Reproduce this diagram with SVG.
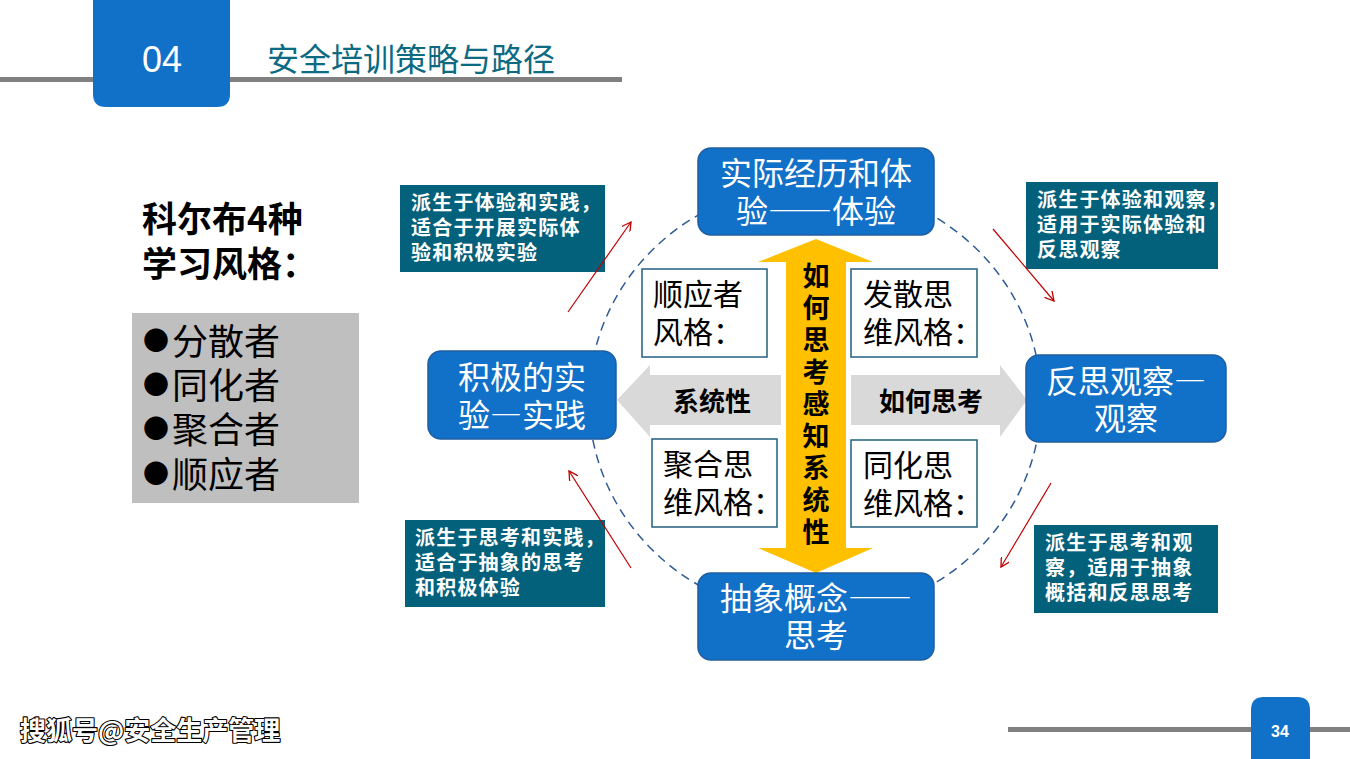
<svg xmlns="http://www.w3.org/2000/svg" width="1350" height="759" viewBox="0 0 1350 759">
<defs>
<style>
.cjk{font-family:"Noto Sans CJK SC","Noto Sans",sans-serif;}
.fw{font-feature-settings:"fwid" 1;}
.node rect{fill:#1170C8;stroke:#1F5EA0;stroke-width:1.5;}
.node text{fill:#fff;font-size:32px;text-anchor:middle;}
.note rect{fill:#03617B;}
.note text{fill:#fff;font-size:20px;font-weight:700;letter-spacing:1.2px;}
.style rect{fill:#fff;stroke:#1F6080;stroke-width:1.5;}
.style text{fill:#000;font-size:30px;}
.red{stroke:#C00000;stroke-width:1.2;fill:none;marker-end:url(#ah);}
.bul{font-size:26px;}
</style>
<marker id="ah" viewBox="0 0 10 10" refX="9" refY="5" markerWidth="10" markerHeight="10" markerUnits="userSpaceOnUse" orient="auto">
<path d="M0,0 L9,5 L0,10" fill="none" stroke="#C00000" stroke-width="1.3"/>
</marker>
</defs>
<rect width="1350" height="759" fill="#fff"/>

<g id="header">
<rect x="0" y="77" width="622" height="5" fill="#808080"/>
<path d="M93,0 H230 V94 Q230,107 217,107 H106 Q93,107 93,94 Z" fill="#1170C8"/>
<text x="162" y="72" font-family="Liberation Sans,Arial,sans-serif" font-size="36" fill="#fff" text-anchor="middle">04</text>
<text class="cjk" x="267" y="71" font-size="32" fill="#0C6A82">安全培训策略与路径</text>
</g>

<g id="footer">
<rect x="1008" y="727" width="342" height="5" fill="#808080"/>
<path d="M1251,759 V710 Q1251,697 1264,697 H1297 Q1310,697 1310,710 V759 Z" fill="#1170C8"/>
<text x="1280" y="737" font-family="Liberation Sans,Arial,sans-serif" font-size="16" font-weight="700" fill="#fff" text-anchor="middle">34</text>
<text class="cjk" x="20" y="740" font-size="26" font-weight="700" fill="#fff" stroke="#000" stroke-width="2.2" paint-order="stroke" stroke-linejoin="round">搜狐号@安全生产管理</text>
</g>

<g id="left-title">
<text class="cjk" font-size="35" font-weight="700" fill="#000"><tspan x="142" y="232">科尔布4种</tspan><tspan x="142" y="277">学习风格：</tspan></text>
</g>

<g id="style-list">
<rect x="132" y="313" width="227" height="190" fill="#BFBFBF"/>
<g class="cjk" font-size="36" fill="#000">
<text class="bul" x="143" y="350">●</text><text x="172" y="355">分散者</text>
<text class="bul" x="143" y="394">●</text><text x="172" y="399">同化者</text>
<text class="bul" x="143" y="438">●</text><text x="172" y="443">聚合者</text>
<text class="bul" x="143" y="483">●</text><text x="172" y="488">顺应者</text>
</g>
</g>

<ellipse id="cycle" cx="815" cy="400" rx="226" ry="216" fill="none" stroke="#2E5C94" stroke-width="1.5" stroke-dasharray="9 6"/>

<g id="axis-vertical">
<polygon points="816,239 873,262 846,262 846,548 873,548 816,573 758,548 786,548 786,262 758,262" fill="#FFC000"/>
<text class="cjk" x="816" font-size="27" font-weight="700" fill="#000" text-anchor="middle"><tspan x="816" y="286">如</tspan><tspan x="816" y="318">何</tspan><tspan x="816" y="350">思</tspan><tspan x="816" y="382">考</tspan><tspan x="816" y="414">感</tspan><tspan x="816" y="446">知</tspan><tspan x="816" y="478">系</tspan><tspan x="816" y="510">统</tspan><tspan x="816" y="542">性</tspan></text>
</g>

<g id="axis-left">
<polygon points="617,400 650,365 650,375 781,375 781,425 650,425 650,437" fill="#D9D9D9"/>
<text class="cjk" x="712" y="411" font-size="26" font-weight="700" fill="#000" text-anchor="middle">系统性</text>
</g>
<g id="axis-right">
<polygon points="851,375 1000,375 1000,365 1027,400 1000,437 1000,425 851,425" fill="#D9D9D9"/>
<text class="cjk" x="931" y="411" font-size="26" font-weight="700" fill="#000" text-anchor="middle">如何思考</text>
</g>

<g id="node-top" class="node cjk">
<rect x="698" y="148" width="236" height="87" rx="13"/>
<text class="fw"><tspan x="816" y="185">实际经历和体</tspan><tspan x="816" y="223">验——体验</tspan></text>
</g>
<g id="node-left" class="node cjk">
<rect x="428" y="351" width="188" height="88" rx="13"/>
<text class="fw"><tspan x="522" y="389">积极的实</tspan><tspan x="522" y="427">验—实践</tspan></text>
</g>
<g id="node-right" class="node cjk">
<rect x="1026" y="355" width="200" height="87" rx="13"/>
<text class="fw"><tspan x="1126" y="393">反思观察—</tspan><tspan x="1126" y="430">观察</tspan></text>
</g>
<g id="node-bottom" class="node cjk">
<rect x="698" y="573" width="236" height="87" rx="13"/>
<text class="fw"><tspan x="816" y="610">抽象概念——</tspan><tspan x="816" y="647">思考</tspan></text>
</g>

<g id="style-accommodator" class="style cjk">
<rect x="642" y="269" width="125" height="88"/>
<text><tspan x="653" y="305">顺应者</tspan><tspan x="653" y="343">风格：</tspan></text>
</g>
<g id="style-diverger" class="style cjk">
<rect x="851" y="269" width="126" height="88"/>
<text><tspan x="863" y="305">发散思</tspan><tspan x="863" y="343">维风格：</tspan></text>
</g>
<g id="style-converger" class="style cjk">
<rect x="652" y="439" width="125" height="88"/>
<text><tspan x="663" y="475">聚合思</tspan><tspan x="663" y="513">维风格：</tspan></text>
</g>
<g id="style-assimilator" class="style cjk">
<rect x="851" y="440" width="126" height="87"/>
<text><tspan x="863" y="476">同化思</tspan><tspan x="863" y="514">维风格：</tspan></text>
</g>

<g id="note-tl" class="note cjk">
<rect x="400" y="185" width="205" height="87"/>
<text><tspan x="411" y="210">派生于体验和实践，</tspan><tspan x="411" y="235">适合于开展实际体</tspan><tspan x="411" y="260">验和积极实验</tspan></text>
</g>
<g id="note-tr" class="note cjk">
<rect x="1026" y="182" width="192" height="87"/>
<text><tspan x="1037" y="207">派生于体验和观察，</tspan><tspan x="1037" y="232">适用于实际体验和</tspan><tspan x="1037" y="257">反思观察</tspan></text>
</g>
<g id="note-bl" class="note cjk">
<rect x="405" y="520" width="200" height="87"/>
<text><tspan x="415" y="545">派生于思考和实践，</tspan><tspan x="415" y="570">适合于抽象的思考</tspan><tspan x="415" y="595">和积极体验</tspan></text>
</g>
<g id="note-br" class="note cjk">
<rect x="1034" y="525" width="184" height="88"/>
<text><tspan x="1045" y="550">派生于思考和观</tspan><tspan x="1045" y="575">察，适用于抽象</tspan><tspan x="1045" y="600">概括和反思思考</tspan></text>
</g>

<g id="connectors">
<line class="red" x1="568" y1="312" x2="631" y2="222"/>
<line class="red" x1="993" y1="229" x2="1054" y2="301"/>
<line class="red" x1="631" y1="568" x2="569" y2="471"/>
<line class="red" x1="1051" y1="483" x2="1001" y2="567"/>
</g>
</svg>
